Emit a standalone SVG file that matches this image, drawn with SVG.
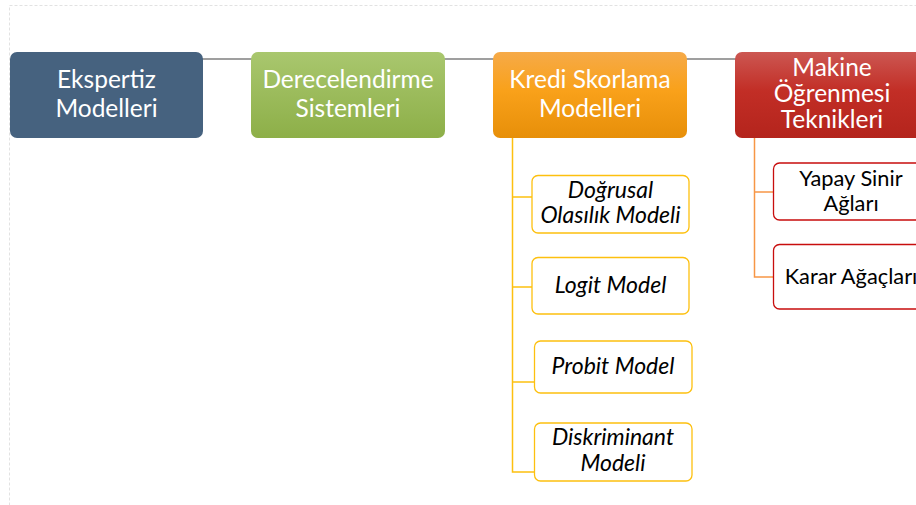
<svg xmlns="http://www.w3.org/2000/svg" width="916" height="505" viewBox="0 0 916 505">
  <defs>
    <linearGradient id="gGreen" x1="0" y1="0" x2="0" y2="1">
      <stop offset="0" stop-color="#a9c76e"/>
      <stop offset="1" stop-color="#8daf48"/>
    </linearGradient>
    <linearGradient id="gOrange" x1="0" y1="0" x2="0" y2="1">
      <stop offset="0" stop-color="#f6aa48"/>
      <stop offset="0.45" stop-color="#f9a11a"/>
      <stop offset="1" stop-color="#e78f09"/>
    </linearGradient>
    <linearGradient id="gRed" x1="0" y1="0" x2="0" y2="1">
      <stop offset="0" stop-color="#cc5752"/>
      <stop offset="0.45" stop-color="#c22e26"/>
      <stop offset="1" stop-color="#b4241c"/>
    </linearGradient>
  </defs>
  <style>
    .frame { fill: none; stroke: #e2e2e2; stroke-width: 1; stroke-dasharray: 3 2; }
    .top { stroke: none; }
    .top-text { font-family: Lato, "Open Sans", sans-serif; font-size: 24.5px; fill: #ffffff; text-anchor: middle; }
    .leaf-y { fill: #ffffff; stroke: #fdc00f; stroke-width: 1.3; }
    .leaf-r { fill: #ffffff; stroke: #c80d0d; stroke-width: 1.3; }
    .leaf-text { font-family: Lato, "Open Sans", sans-serif; font-size: 23px; fill: #000000; text-anchor: middle; font-style: italic; }
    .leaf-text-r { font-family: Lato, "Open Sans", sans-serif; font-size: 21.8px; fill: #000000; text-anchor: middle; }
    .link-main { stroke: #7f7f7f; stroke-width: 1.5; fill: none; }
    .link-y { stroke: #fdc00f; stroke-width: 1.5; fill: none; }
    .link-r { stroke: #f79646; stroke-width: 1.5; fill: none; }
  </style>

  <!-- dashed page frame -->
  <rect class="frame" x="9.5" y="5.5" width="920" height="520"/>

  <g id="connectors">
    <line class="link-main" x1="200" y1="59" x2="740" y2="59"/>
    <polyline class="link-y" points="512.5,138 512.5,472 534,472"/>
    <line class="link-y" x1="512.5" y1="197" x2="532" y2="197"/>
    <line class="link-y" x1="512.5" y1="287" x2="532" y2="287"/>
    <line class="link-y" x1="512.5" y1="382" x2="534" y2="382"/>
    <polyline class="link-r" points="754.5,138 754.5,277 773,277"/>
    <line class="link-r" x1="754.5" y1="192" x2="773" y2="192"/>
  </g>

  <g id="ekspertiz">
    <rect class="top" x="10" y="52" width="193" height="86" rx="7" fill="#46627f"/>
    <text class="top-text" x="106.5" y="88">Ekspertiz</text>
    <text class="top-text" x="106.5" y="117">Modelleri</text>
  </g>

  <g id="derecelendirme">
    <rect class="top" x="251" y="52" width="194" height="86" rx="7" fill="url(#gGreen)"/>
    <text class="top-text" x="348" y="88">Derecelendirme</text>
    <text class="top-text" x="348" y="117">Sistemleri</text>
  </g>

  <g id="kredi">
    <rect class="top" x="493" y="52" width="194" height="86" rx="7" fill="url(#gOrange)"/>
    <text class="top-text" x="590" y="88">Kredi Skorlama</text>
    <text class="top-text" x="590" y="117">Modelleri</text>
  </g>

  <g id="makine">
    <rect class="top" x="735" y="52" width="194" height="86" rx="7" fill="url(#gRed)"/>
    <text class="top-text" x="832" y="76">Makine</text>
    <text class="top-text" x="832" y="102">Öğrenmesi</text>
    <text class="top-text" x="832" y="128">Teknikleri</text>
  </g>

  <g id="dogrusal">
    <rect class="leaf-y" x="532" y="175.5" width="157" height="57.5" rx="6"/>
    <text class="leaf-text" x="610.5" y="198">Doğrusal</text>
    <text class="leaf-text" x="610.5" y="223">Olasılık Modeli</text>
  </g>

  <g id="logit">
    <rect class="leaf-y" x="532" y="257.5" width="157" height="56.5" rx="6"/>
    <text class="leaf-text" x="610.5" y="293">Logit Model</text>
  </g>

  <g id="probit">
    <rect class="leaf-y" x="534.5" y="341" width="157.5" height="52" rx="6"/>
    <text class="leaf-text" x="613" y="374">Probit Model</text>
  </g>

  <g id="diskriminant">
    <rect class="leaf-y" x="534.5" y="423" width="157.5" height="58" rx="6"/>
    <text class="leaf-text" x="613" y="445">Diskriminant</text>
    <text class="leaf-text" x="613" y="471">Modeli</text>
  </g>

  <g id="yapay">
    <rect class="leaf-r" x="773.5" y="163" width="157" height="57" rx="6"/>
    <text class="leaf-text-r" x="851" y="186">Yapay Sinir</text>
    <text class="leaf-text-r" x="851" y="211">Ağları</text>
  </g>

  <g id="karar">
    <rect class="leaf-r" x="773.5" y="244.5" width="157" height="64.5" rx="6"/>
    <text class="leaf-text-r" x="851" y="284">Karar Ağaçları</text>
  </g>
</svg>
